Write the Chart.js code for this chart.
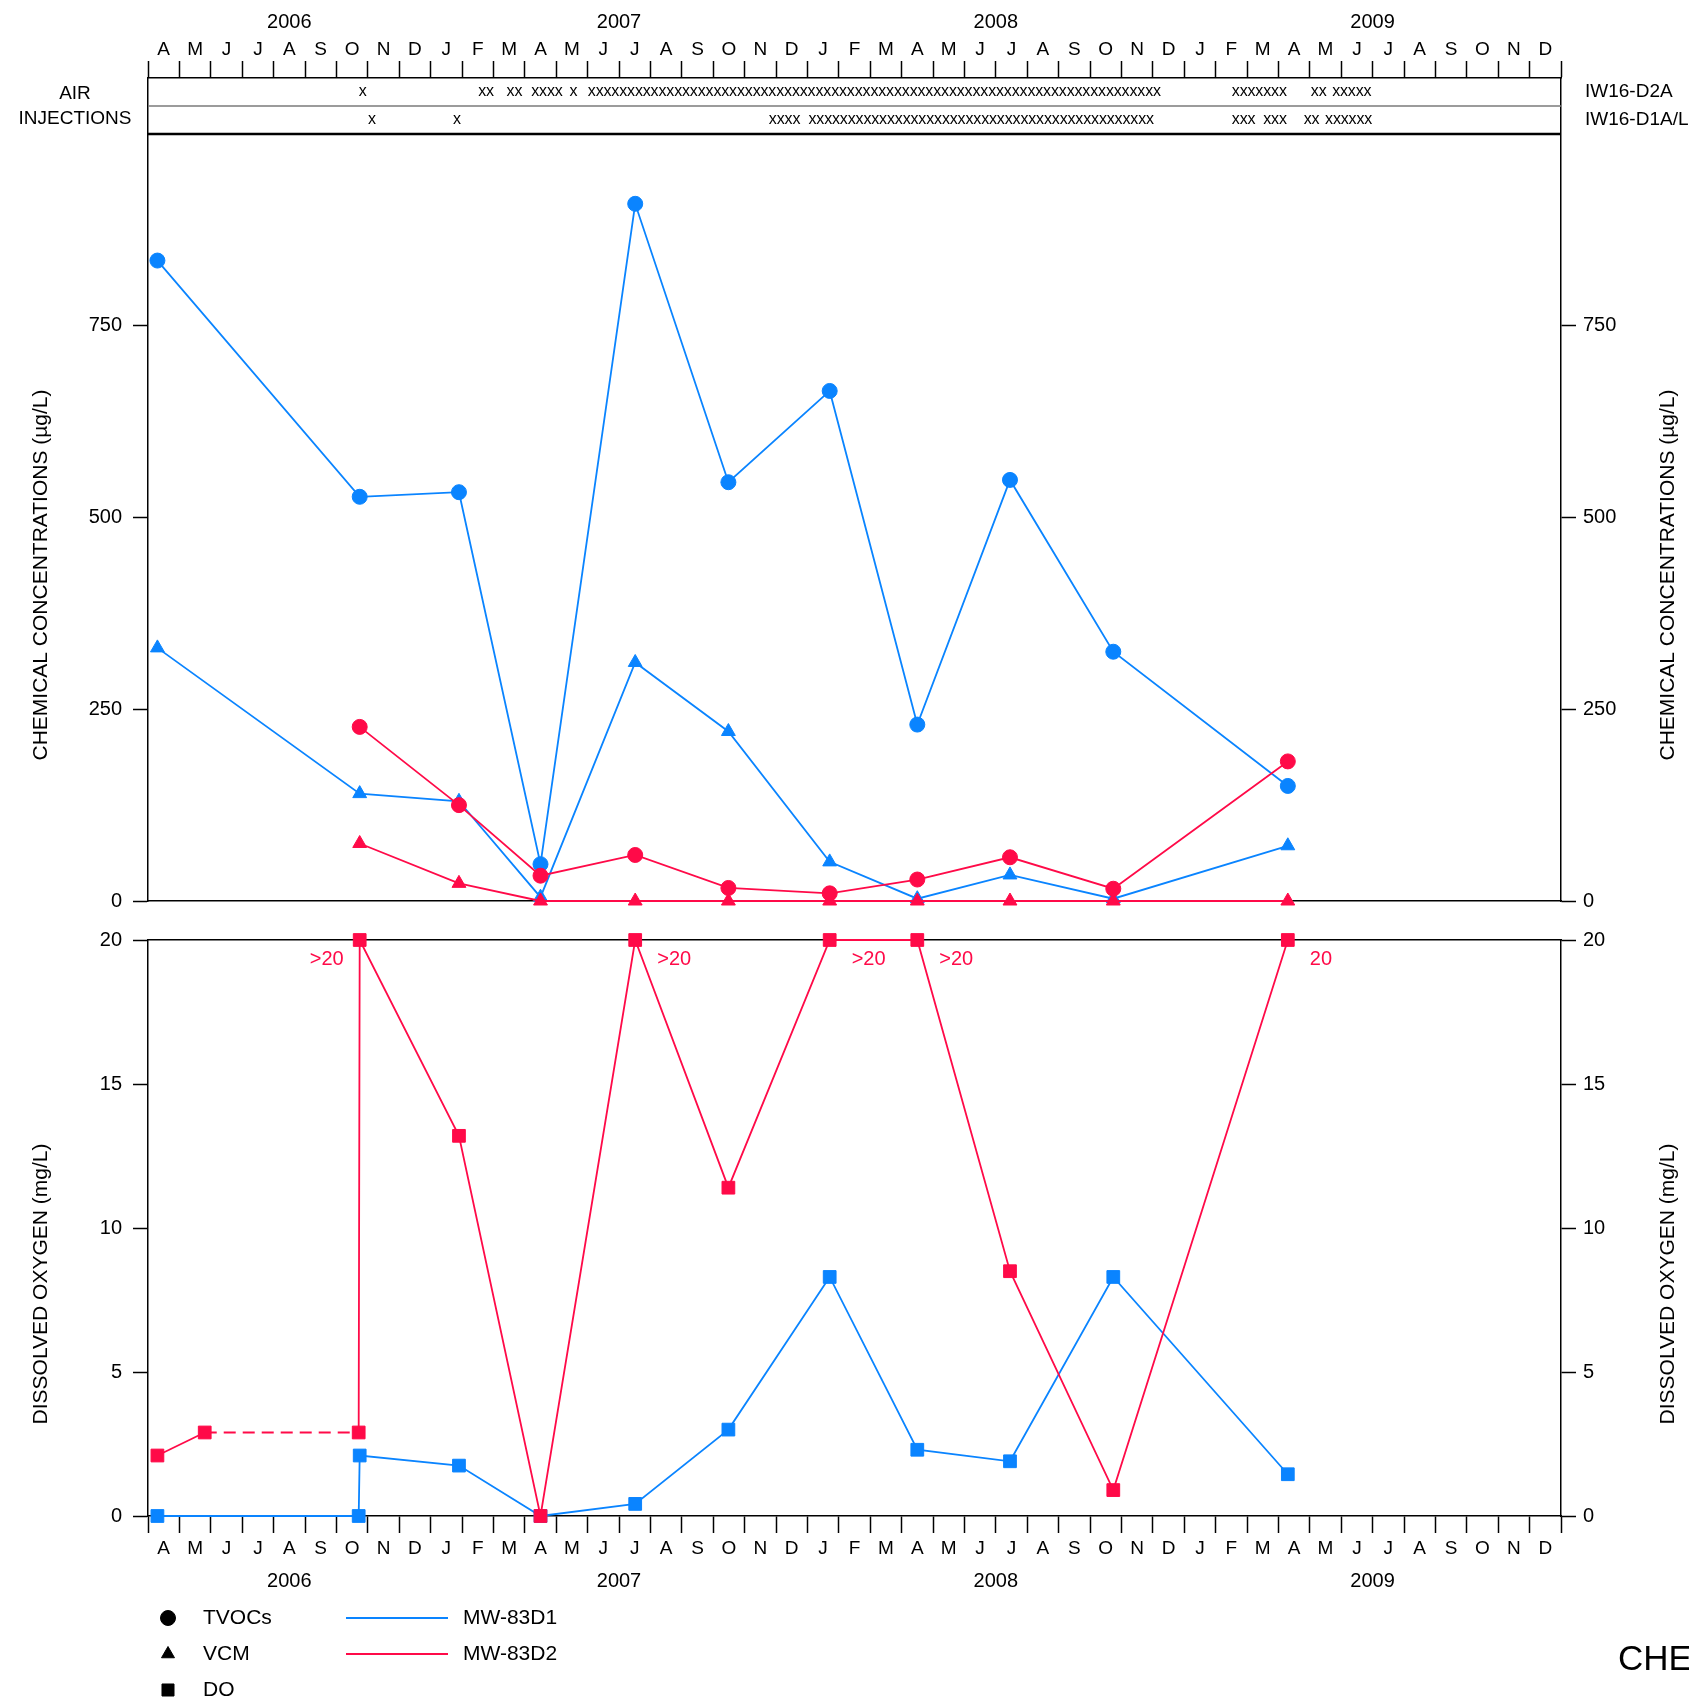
<!DOCTYPE html>
<html>
<head>
<meta charset="utf-8">
<script src="https://cdn.jsdelivr.net/npm/chart.js@4.4.1/dist/chart.umd.min.js"></script>
<style>
  body { margin: 0; background: #fff; }
  #wrap { position: relative; width: 1689px; height: 1704px; }
  canvas { position: absolute; left: 0; }
</style>
</head>
<body>
<div id="wrap">
  <canvas id="concChart" width="1689" height="925" style="top:0"></canvas>
  <canvas id="doChart" width="1689" height="789" style="top:915px"></canvas>
</div>
<script>
// ---- axis labels (Apr 2006 .. Dec 2009) ----
const monthLabels = ['A','M','J','J','A','S','O','N','D',
  'J','F','M','A','M','J','J','A','S','O','N','D',
  'J','F','M','A','M','J','J','A','S','O','N','D',
  'J','F','M','A','M','J','J','A','S','O','N','D'];
const yearLabels = ['2006', '2007', '2008', '2009'];
const yearStarts = [0, 9, 21, 33, 45];   // month index where each year begins, last = axis end
const concTicks = [0, 250, 500, 750];

// ---- sampling events ----
const sampleDates = ['2006-04-10','2006-10-24','2007-01-29','2007-04-16','2007-07-17','2007-10-16',
  '2008-01-23','2008-04-16','2008-07-15','2008-10-24','2009-04-10'];

// MW-83D1 (blue)
const tvocD1 = [835, 527, 533, 48, 909, 546, 665, 230, 549, 325, 150];
const vcmD1  = [330, 140, 130, 5, 311, 221, 51, 3, 34, 3, 72];
// MW-83D2 (red), sampled from Oct 2006
const tvocD2 = [227, 125, 33, 60, 17, 10, 28, 57, 16, 182];
const vcmD2  = [75, 23, 0, 0, 0, 0, 0, 0, 0, 0];

// dissolved oxygen
const doDatesD1 = ['2006-04-10','2006-10-23','2006-10-24','2007-01-29','2007-04-16','2007-07-17',
  '2007-10-16','2008-01-23','2008-04-16','2008-07-15','2008-10-24','2009-04-10'];
const doD1 = [0, 0, 2.1, 1.75, 0, 0.42, 3.0, 8.3, 2.3, 1.9, 8.3, 1.45];
const doDatesD2 = ['2006-04-10','2006-05-26','2006-10-23','2006-10-24','2007-01-29','2007-04-16',
  '2007-07-17','2007-10-16','2008-01-23','2008-04-16','2008-07-15','2008-10-24','2009-04-10'];
const doD2 = [2.1, 2.9, 2.9, 20, 13.2, 0, 20, 11.4, 20, 20, 8.5, 0.9, 20];
const doD2Dashed = [1];                       // segment May 2006 -> Oct 2006 is dashed
const doD2Notes = [[3, '>20', 'left'], [6, '>20', 'right'], [8, '>20', 'right'],
  [9, '>20', 'right'], [12, '20', 'right']];

// air injections: [first date, number of marks], marks every quarter month
const injD2A = [['2006-10-27',1],['2007-02-19',2],['2007-03-18',2],['2007-04-11',4],['2007-05-18',1],
  ['2007-06-05',73],['2009-02-19',7],['2009-05-06',2],['2009-05-27',5]];
const injD1AL = [['2006-11-05',1],['2007-01-27',1],['2007-11-28',4],['2008-01-06',44],
  ['2009-02-19',3],['2009-03-21',3],['2009-04-29',2],['2009-05-20',6]];

const BLUE = '#0a84ff';
const RED = '#ff0a48';
const FONT = "'Liberation Sans', Arial, sans-serif";

Chart.defaults.font.family = FONT;
Chart.defaults.color = '#000';

// months since 1 Apr 2006
function mo(s) {
  const [y, m, d] = s.split('-').map(Number);
  const dim = new Date(y, m, 0).getDate();
  return (y - 2006) * 12 + (m - 4) + (d - 1) / dim;
}
function pts(dates, vals) {
  return vals.map((v, i) => ({ x: mo(dates[i]), y: v }));
}
function series(label, data, color, style, r) {
  return {
    label, data,
    borderColor: color, backgroundColor: color,
    pointBackgroundColor: color, pointBorderColor: color,
    pointStyle: style, pointRadius: r, pointHoverRadius: r,
    borderWidth: 1.8, pointBorderWidth: 1, tension: 0, clip: false
  };
}
function vTitle(ctx, text, x, y) {
  ctx.save();
  ctx.translate(x, y);
  ctx.rotate(-Math.PI / 2);
  ctx.textAlign = 'center';
  ctx.textBaseline = 'middle';
  ctx.fillText(text, 0, 0);
  ctx.restore();
}

const halfMonthTicks = s => {
  const t = [];
  for (let i = 0; i <= 90; i++) t.push({ value: i / 2 });
  s.ticks = t;
};
const yearTicks = s => {
  s.ticks = yearLabels.map((_, i) => ({ value: (yearStarts[i] + yearStarts[i + 1]) / 2 }));
};
const monthAxis = (position, padding) => ({
  type: 'linear', position, min: 0, max: 45,
  afterBuildTicks: halfMonthTicks,
  afterFit: s => { s.height = 44; },
  ticks: {
    autoSkip: false, maxRotation: 0, minRotation: 0, padding,
    font: { size: 19 },
    callback: v => Number.isInteger(v) ? '' : monthLabels[Math.floor(v)]
  },
  grid: {
    drawOnChartArea: false, drawTicks: true, tickLength: 17, tickWidth: 1.5,
    tickColor: c => Number.isInteger(c.tick.value) ? '#000' : 'rgba(0,0,0,0)'
  },
  border: { display: true, color: '#000', width: 1.5 }
});
const yearAxis = (position, padding, height) => ({
  type: 'linear', position, min: 0, max: 45, weight: 1,
  afterBuildTicks: yearTicks,
  afterFit: s => { s.height = height; },
  ticks: { autoSkip: false, maxRotation: 0, minRotation: 0, padding, font: { size: 20 },
    callback: (v, i) => yearLabels[i] },
  grid: { display: false, drawTicks: false },
  border: { display: false }
});
const lineAxis = (position, height) => ({
  type: 'linear', position, min: 0, max: 45,
  afterFit: s => { s.height = height; },
  ticks: { display: false },
  grid: { display: false, drawTicks: false },
  border: { display: true, color: '#000', width: 1.5 }
});
const valueAxis = (position, min, max, width, padding, extra) => Object.assign({
  type: 'linear', position, min, max,
  afterFit: s => { s.width = width; },
  ticks: { padding, font: { size: 20 } },
  grid: { drawOnChartArea: false, tickLength: 15, tickWidth: 1.5, tickColor: '#000' },
  border: { display: true, color: '#000', width: 1.5 }
}, extra);

// ---------- top chart: air injections + chemical concentrations ----------
// chart area 78..901 px; 0..1000 ug/L occupies 134..901, the rest is the injection box
const concMax = 1000 * (901 - 78) / (901 - 134);

const injectionPlugin = {
  id: 'injections',
  afterDraw(chart) {
    const { ctx, chartArea: a, scales: { x, y } } = chart;
    const bTop = a.top, bBot = y.getPixelForValue(1000), h = bBot - bTop;
    ctx.save();
    ctx.strokeStyle = '#7a7a7a';
    ctx.lineWidth = 1.3;
    ctx.beginPath(); ctx.moveTo(a.left, bTop + h / 2); ctx.lineTo(a.right, bTop + h / 2); ctx.stroke();
    ctx.strokeStyle = '#000';
    ctx.lineWidth = 2.5;
    ctx.beginPath(); ctx.moveTo(a.left, bBot); ctx.lineTo(a.right, bBot); ctx.stroke();

    ctx.fillStyle = '#000';
    ctx.font = '16px ' + FONT;
    ctx.textAlign = 'center';
    ctx.textBaseline = 'alphabetic';
    [injD2A, injD1AL].forEach((runs, r) => {
      const yb = bTop + h * (r === 0 ? 0.25 : 0.75) + 4;
      runs.forEach(([d, n]) => {
        for (let k = 0; k < n; k++) ctx.fillText('x', x.getPixelForValue(mo(d) + k * 0.25), yb);
      });
    });

    ctx.font = '19px ' + FONT;
    ctx.textBaseline = 'middle';
    ctx.fillText('AIR', 75, bTop + h * 0.28);
    ctx.fillText('INJECTIONS', 75, bTop + h * 0.72);
    ctx.textAlign = 'left';
    ctx.fillText('IW16-D2A', a.right + 24, bTop + h * 0.25);
    ctx.fillText('IW16-D1A/L', a.right + 24, bTop + h * 0.75);

    ctx.font = '21px ' + FONT;
    vTitle(ctx, 'CHEMICAL CONCENTRATIONS (µg/L)', 41, 575);
    vTitle(ctx, 'CHEMICAL CONCENTRATIONS (µg/L)', 1668, 575);
    ctx.restore();
  }
};

new Chart(document.getElementById('concChart'), {
  type: 'line',
  data: {
    datasets: [
      series('MW-83D2 TVOCs', pts(sampleDates.slice(1), tvocD2), RED, 'circle', 7.5),
      series('MW-83D2 VCM', pts(sampleDates.slice(1), vcmD2), RED, 'triangle', 8),
      series('MW-83D1 TVOCs', pts(sampleDates, tvocD1), BLUE, 'circle', 7.5),
      series('MW-83D1 VCM', pts(sampleDates, vcmD1), BLUE, 'triangle', 8)
    ]
  },
  options: {
    responsive: false, animation: false, devicePixelRatio: 1, events: [],
    layout: { padding: 0, autoPadding: false },
    plugins: { legend: { display: false }, tooltip: { enabled: false } },
    scales: {
      x: monthAxis('top', 0),
      xYear: yearAxis('top', 0, 34),
      xZero: lineAxis('bottom', 24),
      y: valueAxis('left', 0, concMax, 148, 11, {
        afterBuildTicks: s => { s.ticks = concTicks.map(v => ({ value: v })); } }),
      yR: valueAxis('right', 0, concMax, 128, 7, {
        afterBuildTicks: s => { s.ticks = concTicks.map(v => ({ value: v })); } })
    }
  },
  plugins: [injectionPlugin]
});

// ---------- bottom chart: dissolved oxygen + legend ----------
const doPlugin = {
  id: 'doExtras',
  afterDraw(chart) {
    const { ctx } = chart;
    ctx.save();
    ctx.fillStyle = '#000';
    ctx.font = '21px ' + FONT;
    vTitle(ctx, 'DISSOLVED OXYGEN (mg/L)', 41, 369);
    vTitle(ctx, 'DISSOLVED OXYGEN (mg/L)', 1668, 369);

    // ">20" notes on MW-83D2
    const meta = chart.getDatasetMeta(0);
    ctx.fillStyle = RED;
    ctx.font = '20px ' + FONT;
    ctx.textBaseline = 'middle';
    doD2Notes.forEach(([i, text, side]) => {
      const p = meta.data[i];
      ctx.textAlign = side === 'left' ? 'right' : 'left';
      ctx.fillText(text, p.x + (side === 'left' ? -16 : 22), p.y + 19);
    });

    // legend
    const shapes = [['circle', 'TVOCs'], ['triangle', 'VCM'], ['rect', 'DO']];
    const wells = [[BLUE, 'MW-83D1'], [RED, 'MW-83D2']];
    ctx.font = '21px ' + FONT;
    ctx.textAlign = 'left';
    shapes.forEach(([style, text], i) => {
      const yy = 703 + i * 36;
      ctx.fillStyle = '#000';
      ctx.strokeStyle = '#000';
      Chart.helpers.drawPoint(ctx, { pointStyle: style, radius: style === 'rect' ? 8.5 : 7.5,
        rotation: 0, borderWidth: 1 }, 168, yy);
      ctx.fillText(text, 203, yy);
    });
    wells.forEach(([color, text], i) => {
      const yy = 703 + i * 36;
      ctx.strokeStyle = color;
      ctx.lineWidth = 2;
      ctx.beginPath(); ctx.moveTo(346, yy); ctx.lineTo(448, yy); ctx.stroke();
      ctx.fillStyle = '#000';
      ctx.fillText(text, 463, yy);
    });

    ctx.font = '35px ' + FONT;
    ctx.textBaseline = 'alphabetic';
    ctx.fillText('CHE', 1618, 755);
    ctx.restore();
  }
};

const doRed = series('MW-83D2 DO', pts(doDatesD2, doD2), RED, 'rect', 9);
doRed.segment = { borderDash: c => doD2Dashed.includes(c.p0DataIndex) ? [12, 7] : undefined };

const doAxisTicks = { ticks: { padding: 0, font: { size: 20 }, stepSize: 5 } };

new Chart(document.getElementById('doChart'), {
  type: 'line',
  data: {
    datasets: [doRed, series('MW-83D1 DO', pts(doDatesD1, doD1), BLUE, 'rect', 9)]
  },
  options: {
    responsive: false, animation: false, devicePixelRatio: 1, events: [],
    layout: { padding: { top: 0, bottom: 104, left: 0, right: 0 }, autoPadding: false },
    plugins: { legend: { display: false }, tooltip: { enabled: false } },
    scales: {
      x: monthAxis('bottom', 4),
      xYear: yearAxis('bottom', 9, 40),
      xTop: lineAxis('top', 25),
      y: valueAxis('left', 0, 20, 148, 11, { ticks: { padding: 11, font: { size: 20 }, stepSize: 5 } }),
      yR: valueAxis('right', 0, 20, 128, 7, { ticks: { padding: 7, font: { size: 20 }, stepSize: 5 } })
    }
  },
  plugins: [doPlugin]
});
</script>
</body>
</html>
